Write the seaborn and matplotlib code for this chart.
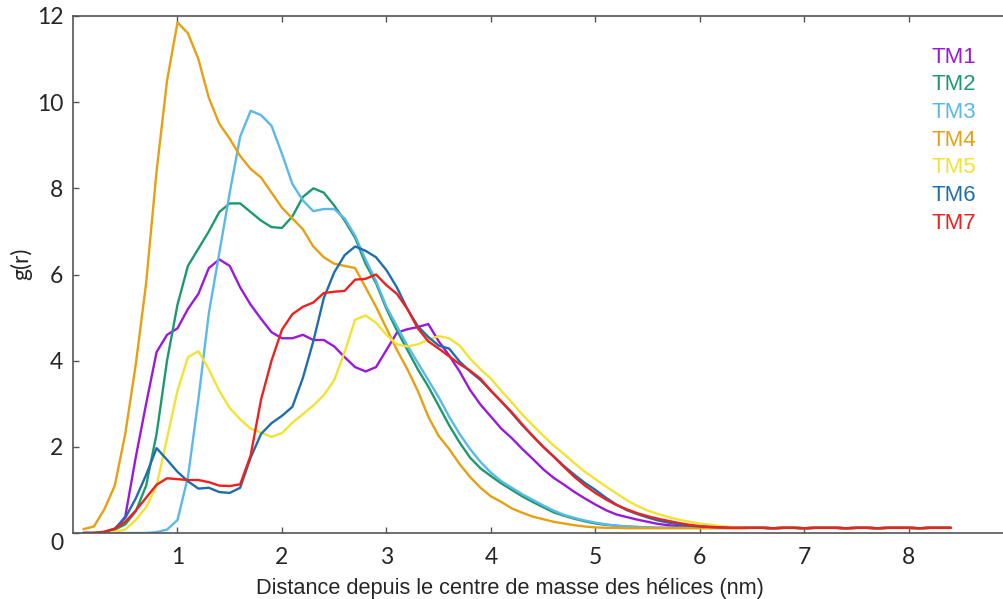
import numpy as np
import pandas as pd
import seaborn as sns
import matplotlib.pyplot as plt

sns.set_theme(style="white")
plt.rcParams['font.family'] = ['Lato', 'DejaVu Sans']

# distance (nm), one point every 0.1 nm
r = [round(0.1 * i, 1) for i in range(1, 85)]

tail = [0.12, 0.12, 0.11, 0.12, 0.12, 0.11, 0.12, 0.12, 0.12, 0.11,
        0.12, 0.12, 0.11, 0.12, 0.12, 0.12, 0.11, 0.12, 0.12, 0.12]  # 6.5 .. 8.4

tm1 = [0.0, 0.0, 0.02, 0.08, 0.38, 1.75, 3.0, 4.2, 4.6, 4.75,
       5.2, 5.55, 6.15, 6.35, 6.2, 5.7, 5.3, 4.97, 4.66, 4.52,
       4.52, 4.6, 4.48, 4.48, 4.33, 4.08, 3.85, 3.75, 3.85, 4.25,
       4.65, 4.73, 4.78, 4.85, 4.45, 4.12, 3.75, 3.32, 2.98, 2.7,
       2.42, 2.2, 1.95, 1.72, 1.48, 1.28, 1.12, 0.95, 0.8, 0.66,
       0.53, 0.43, 0.37, 0.31, 0.26, 0.21, 0.18, 0.16, 0.14, 0.13,
       0.13, 0.12, 0.12, 0.12] + tail
tm2 = [0.0, 0.0, 0.02, 0.08, 0.2, 0.5, 1.1, 2.3, 4.0, 5.3,
       6.2, 6.6, 7.0, 7.45, 7.65, 7.65, 7.45, 7.25, 7.1, 7.08,
       7.35, 7.8, 8.0, 7.9, 7.6, 7.25, 6.85, 6.25, 5.8, 5.2,
       4.7, 4.25, 3.8, 3.4, 2.95, 2.5, 2.1, 1.75, 1.5, 1.32,
       1.15, 1.0, 0.85, 0.72, 0.6, 0.48, 0.4, 0.33, 0.27, 0.22,
       0.19, 0.17, 0.15, 0.14, 0.13, 0.12, 0.12, 0.12, 0.12, 0.12,
       0.12, 0.12, 0.12, 0.12] + tail
tm3 = [0.0, 0.0, 0.0, 0.0, 0.0, 0.0, 0.0, 0.02, 0.08, 0.3,
       1.3, 3.1, 5.1, 6.5, 7.9, 9.2, 9.8, 9.7, 9.45, 8.8,
       8.1, 7.72, 7.47, 7.52, 7.52, 7.3, 6.9, 6.35, 5.85, 5.25,
       4.8, 4.35, 3.95, 3.55, 3.15, 2.7, 2.3, 1.95, 1.65, 1.4,
       1.2, 1.05, 0.9, 0.77, 0.64, 0.52, 0.42, 0.35, 0.29, 0.24,
       0.2, 0.17, 0.15, 0.14, 0.13, 0.12, 0.12, 0.12, 0.12, 0.12,
       0.12, 0.12, 0.12, 0.12] + tail
tm4 = [0.09, 0.15, 0.55, 1.1, 2.3, 3.9, 5.8, 8.4, 10.5, 11.85,
       11.6, 11.0, 10.1, 9.5, 9.15, 8.75, 8.45, 8.25, 7.9, 7.55,
       7.3, 7.05, 6.65, 6.4, 6.25, 6.2, 6.15, 5.7, 5.25, 4.75,
       4.25, 3.8, 3.3, 2.7, 2.25, 1.95, 1.6, 1.3, 1.05, 0.85,
       0.72, 0.57, 0.47, 0.38, 0.32, 0.26, 0.22, 0.18, 0.15, 0.13,
       0.12, 0.12, 0.11, 0.11, 0.11, 0.11, 0.11, 0.11, 0.11, 0.11,
       0.11, 0.11, 0.11, 0.11] + tail
tm5 = [0.0, 0.0, 0.01, 0.03, 0.08, 0.3, 0.6, 1.1, 2.2, 3.3,
       4.08, 4.22, 3.8, 3.3, 2.9, 2.64, 2.42, 2.33, 2.23, 2.32,
       2.56, 2.76, 2.96, 3.2, 3.55, 4.2, 4.95, 5.05, 4.88, 4.6,
       4.38, 4.33, 4.38, 4.48, 4.57, 4.52, 4.35, 4.05, 3.8, 3.58,
       3.3, 3.03, 2.75, 2.5, 2.26, 2.03, 1.83, 1.62, 1.42, 1.25,
       1.08, 0.92, 0.76, 0.63, 0.52, 0.44, 0.37, 0.31, 0.26, 0.22,
       0.19, 0.16, 0.14, 0.13] + tail
tm6 = [0.0, 0.0, 0.02, 0.1, 0.35, 0.8, 1.35, 1.97, 1.7, 1.42,
       1.2, 1.03, 1.05, 0.95, 0.93, 1.05, 1.75, 2.3, 2.55, 2.72,
       2.93, 3.6, 4.45, 5.45, 6.05, 6.45, 6.65, 6.55, 6.4, 6.1,
       5.7, 5.2, 4.8, 4.55, 4.35, 4.28, 3.98, 3.75, 3.55, 3.3,
       3.05, 2.78, 2.5, 2.25, 2.0, 1.78, 1.55, 1.35, 1.16, 1.0,
       0.82, 0.66, 0.53, 0.44, 0.36, 0.29, 0.24, 0.2, 0.17, 0.15,
       0.14, 0.13, 0.12, 0.12] + tail
tm7 = [0.0, 0.0, 0.03, 0.1, 0.26, 0.52, 0.82, 1.12, 1.27, 1.25,
       1.23, 1.23, 1.18, 1.1, 1.09, 1.13, 1.8, 3.1, 4.0, 4.72,
       5.08, 5.25, 5.35, 5.57, 5.6, 5.62, 5.88, 5.9, 6.0, 5.75,
       5.55, 5.2, 4.75, 4.45, 4.28, 4.1, 3.92, 3.77, 3.58, 3.3,
       3.05, 2.8, 2.52, 2.25, 2.0, 1.77, 1.53, 1.3, 1.1, 0.93,
       0.78, 0.65, 0.55, 0.46, 0.39, 0.33, 0.28, 0.23, 0.19, 0.16,
       0.14, 0.13, 0.12, 0.12] + tail

names = ["TM1", "TM2", "TM3", "TM4", "TM5", "TM6", "TM7"]
colors = ["#9a19dd", "#1d9a6c", "#5ab8ea", "#e89f10", "#f2e332", "#1f6eac", "#ee2020"]

df = pd.DataFrame({"r": r, "TM1": tm1, "TM2": tm2, "TM3": tm3, "TM4": tm4,
                   "TM5": tm5, "TM6": tm6, "TM7": tm7})
long = df.melt(id_vars="r", var_name="TM", value_name="g")

fig = plt.figure(figsize=(10.04, 5.99), dpi=100)
ax = fig.add_axes([73 / 1004, 66 / 599, 931 / 1004, 517 / 599])

sns.lineplot(data=long, x="r", y="g", hue="TM", hue_order=names,
             palette=dict(zip(names, colors)), linewidth=1.7, legend=False, ax=ax)

ax.set_xlim(0, 8.91)
ax.set_ylim(0, 12)
ax.set_xticks(range(1, 9))
ax.set_yticks(range(0, 13, 2))
ax.tick_params(direction="in", length=4, width=1, color="#555555",
               labelsize=16.5, top=True, bottom=True, left=True, right=False)
ax.tick_params(axis="x", pad=10)
ax.tick_params(axis="y", pad=7)
ax.get_yticklabels()[0].set_va("top")

for side in ["left", "bottom", "top"]:
    ax.spines[side].set_color("#555555")
    ax.spines[side].set_linewidth(1.2)
ax.spines["right"].set_visible(False)

ax.set_xlabel("Distance depuis le centre de masse des hélices (nm)",
              fontsize=15.7, family=["Liberation Sans", "DejaVu Sans"])
ax.xaxis.set_label_coords(0.469, -0.088)
ax.set_ylabel("g(r)", fontsize=16.5)
ax.yaxis.set_label_coords(-0.044, 0.52)

leg = ax.legend(ax.lines, names, loc="upper left", bbox_to_anchor=(0.91, 0.962),
                frameon=False, handlelength=0, handletextpad=0, labelcolor="linecolor",
                labelspacing=0.3, borderpad=0,
                prop={"family": ["Liberation Sans", "DejaVu Sans"], "size": 16})

plt.savefig("out.png", dpi=100)
